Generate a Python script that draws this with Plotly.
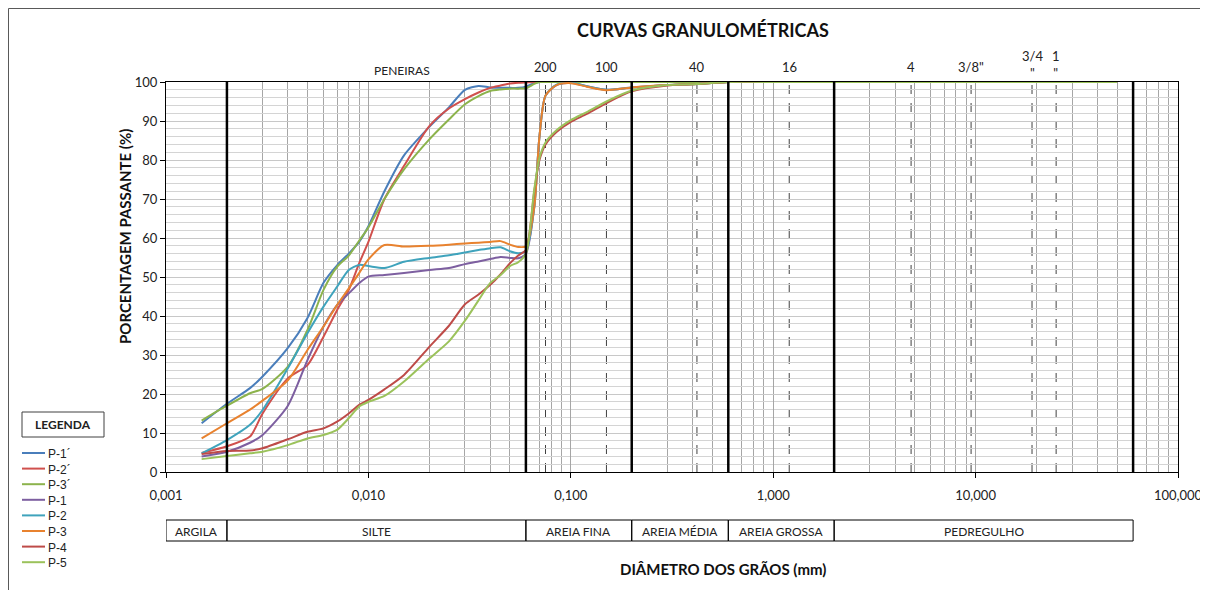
import math
import plotly.graph_objects as go

# diâmetros (mm) comuns a todas as curvas
diametros = [0.0015, 0.002, 0.0026, 0.003, 0.004, 0.005, 0.006, 0.007, 0.008, 0.009,
             0.010, 0.012, 0.015, 0.020, 0.025, 0.030, 0.035, 0.040, 0.045, 0.050,
             0.055, 0.060, 0.066, 0.070, 0.075, 0.085, 0.10, 0.12, 0.15, 0.20,
             0.30, 0.42, 0.60, 1.2, 4.8, 9.5, 19, 25, 50]

p1_linha = [12.5, 17.5, 21.5, 24.5, 31.8, 39.5, 48.5, 53.0, 56.0, 59.0,
            63.0, 72.0, 81.2, 88.5, 93.5, 98.0, 99.0, 98.6, 98.5, 98.5,
            98.5, 98.8, 99.7, 100, 100, 100, 100, 100, 100, 100,
            100, 100, 100, 100, 100, 100, 100, 100, 100]
p2_linha = [4.9, 6.6, 9.1, 15.0, 24.0, 27.4, 34.7, 41.5, 46.7, 53.5,
            59.0, 70.0, 78.5, 88.7, 93.2, 95.6, 97.3, 98.5, 99.1, 99.6,
            99.8, 99.9, 100, 100, 100, 100, 100, 100, 100, 100,
            100, 100, 100, 100, 100, 100, 100, 100, 100]
p3_linha = [13.2, 17.0, 20.2, 21.3, 27.0, 36.4, 46.7, 52.6, 55.5, 59.3,
            62.7, 70.0, 77.6, 85.3, 90.4, 94.3, 96.4, 97.7, 98.1, 98.3,
            98.3, 98.4, 99.5, 100, 100, 100, 100, 100, 100, 100,
            100, 100, 100, 100, 100, 100, 100, 100, 100]
p1 = [4.0, 5.2, 7.5, 9.5, 17.0, 28.7, 37.3, 42.8, 45.8, 48.4,
      50.1, 50.5, 51.0, 51.8, 52.3, 53.3, 54.0, 54.6, 55.1, 54.9,
      54.8, 56.0, 68.0, 86.0, 96.5, 99.2, 99.8, 98.9, 98.0, 98.6,
      99.2, 99.5, 100, 100, 100, 100, 100, 100, 100]
p2 = [4.8, 8.2, 12.1, 15.9, 26.6, 35.6, 42.4, 47.5, 51.8, 53.1,
      52.8, 52.3, 53.9, 54.9, 55.6, 56.3, 56.9, 57.4, 57.6, 56.6,
      56.1, 56.7, 68.0, 86.0, 96.5, 99.3, 99.9, 98.9, 98.0, 98.6,
      99.2, 99.5, 100, 100, 100, 100, 100, 100, 100]
p3 = [8.6, 12.5, 16.0, 18.3, 23.5, 31.3, 37.3, 42.8, 47.1, 51.0,
      54.5, 58.2, 57.8, 58.0, 58.3, 58.6, 58.8, 59.0, 59.2, 58.3,
      57.7, 57.9, 68.0, 86.0, 96.5, 99.2, 99.7, 98.8, 97.9, 98.6,
      99.2, 99.5, 100, 100, 100, 100, 100, 100, 100]
p4 = [4.6, 5.4, 5.5, 6.1, 8.4, 10.3, 11.2, 12.9, 15.0, 17.2,
      18.5, 21.2, 24.9, 32.1, 37.5, 43.0, 45.5, 48.0, 50.7, 53.5,
      55.5, 56.9, 72.0, 80.0, 84.0, 87.2, 89.8, 91.8, 94.6, 97.6,
      99.1, 99.5, 100, 100, 100, 100, 100, 100, 100]
p5 = [3.3, 4.1, 4.8, 5.2, 6.9, 8.6, 9.5, 10.8, 13.8, 16.8,
      18.0, 19.5, 23.2, 29.1, 33.5, 38.8, 44.0, 48.5, 50.5, 52.8,
      53.8, 56.0, 72.5, 80.5, 84.5, 87.6, 90.2, 92.3, 95.0, 97.8,
      99.2, 99.5, 100, 100, 100, 100, 100, 100, 100]

series = [("P-1´", p1_linha, "#4A7EBB"), ("P-2´", p2_linha, "#D0504D"),
          ("P-3´", p3_linha, "#8CB34C"), ("P-1", p1, "#7D5FA0"),
          ("P-2", p2, "#3FA3BC"), ("P-3", p3, "#E8822F"),
          ("P-4", p4, "#BE4B48"), ("P-5", p5, "#9BC25B")]

# peneiras (abertura em mm) e rótulos
peneiras = [0.075, 0.15, 0.42, 1.2, 4.8, 9.5, 19, 25]
peneiras_txt = ["200", "100", "40", "16", "4", "3/8\"", "3/4<br>\"", "1<br>\""]

# limites das frações (ABNT)
limites = [0.002, 0.06, 0.2, 0.6, 2, 60]
fracoes = [("ARGILA", 0.001, 0.002), ("SILTE", 0.002, 0.06), ("AREIA FINA", 0.06, 0.2),
           ("AREIA MÉDIA", 0.2, 0.6), ("AREIA GROSSA", 0.6, 2), ("PEDREGULHO", 2, 60)]

x_ticks = [0.001, 0.01, 0.1, 1, 10, 100]
x_ticktext = ["0,001", "0,010", "0,100", "1,000", "10,000", "100,000"]
minor_vals = [m * 10 ** e for e in range(-3, 2) for m in range(2, 10)]

FONT = "Lato, 'Open Sans', sans-serif"
ARIAL = "'Liberation Sans', Arial, sans-serif"
# a página tem 8 px de margem no body: a figura começa em (8, 8)
OFF = 8
W, H = 1200, 582
L, R, T, B = 166 - OFF, 30, 82 - OFF, 118


def px(x):
    # pixel horizontal da tela -> coordenada paper
    return (x - OFF - L) / (W - L - R)


def py(y):
    # pixel vertical da tela -> coordenada paper
    return (H - B - (y - OFF)) / (H - T - B)


fig = go.Figure()
for name, vals, color in series:
    fig.add_trace(go.Scatter(x=diametros, y=vals, name=name, mode="lines", showlegend=False,
                             line=dict(color=color, width=2, shape="spline", smoothing=0.7)))

shapes = []
for v in peneiras:
    shapes.append(dict(type="line", xref="x", yref="paper", x0=v, x1=v, y0=0, y1=1,
                       line=dict(color="#404040", width=1, dash="dash"), layer="between"))
for v in limites:
    shapes.append(dict(type="line", xref="x", yref="paper", x0=v, x1=v, y0=0, y1=1,
                       line=dict(color="black", width=2.5), layer="above"))
for txt, a, b in fracoes:
    shapes.append(dict(type="rect", xref="x", yref="paper", x0=a, x1=b, y0=py(541), y1=py(520),
                       line=dict(color="black", width=1)))
# caixa da legenda e moldura
shapes.append(dict(type="rect", xref="paper", yref="paper", x0=px(22), x1=px(104),
                   y0=py(437), y1=py(412), line=dict(color="#404040", width=1)))
shapes.append(dict(type="rect", xref="paper", yref="paper", x0=px(8.5), x1=px(1230),
                   y0=py(620), y1=py(8.5), line=dict(color="#595959", width=1)))

annotations = []
for v, t in zip(peneiras, peneiras_txt):
    two = "<br>" in t
    annotations.append(dict(x=math.log10(v), y=py(83 if two else 77), xref="x", yref="paper",
                            text=t, showarrow=False, xanchor="center", yanchor="bottom",
                            font=dict(family=FONT, size=13, color="#222")))
annotations.append(dict(x=px(402), y=py(70), xref="paper", yref="paper", text="PENEIRAS",
                        showarrow=False, xanchor="center", yanchor="middle",
                        font=dict(family=FONT, size=12, color="#222")))
for txt, a, b in fracoes:
    annotations.append(dict(x=(math.log10(a) + math.log10(b)) / 2, y=py(531), xref="x", yref="paper",
                            text=txt, showarrow=False, xanchor="center", yanchor="middle",
                            font=dict(family=FONT, size=12, color="#222")))
annotations.append(dict(x=px(63), y=py(424.5), xref="paper", yref="paper", text="<b>LEGENDA</b>",
                        showarrow=False, xanchor="center", yanchor="middle",
                        font=dict(family=FONT, size=12, color="#222")))
annotations.append(dict(x=px(723), y=py(569), xref="paper", yref="paper",
                        text="<b>DIÂMETRO DOS GRÃOS (mm)</b>", showarrow=False,
                        xanchor="center", yanchor="middle",
                        font=dict(family=FONT, size=15, color="#111")))
annotations.append(dict(x=px(125), y=py(237), xref="paper", yref="paper", textangle=-90,
                        text="<b>PORCENTAGEM PASSANTE (%)</b>", showarrow=False,
                        xanchor="center", yanchor="middle",
                        font=dict(family=FONT, size=15, color="#111")))

# legenda desenhada à mão (espaçamento do original)
for i, (name, vals, color) in enumerate(series):
    yy = 453 + i * 15.6
    shapes.append(dict(type="line", xref="paper", yref="paper", x0=px(22), x1=px(45),
                       y0=py(yy), y1=py(yy), line=dict(color=color, width=2)))
    annotations.append(dict(x=px(46), y=py(yy + 1), xref="paper", yref="paper", text=name,
                            showarrow=False, xanchor="left", yanchor="middle",
                            font=dict(family=ARIAL, size=12, color="#222")))

fig.update_layout(
    width=W, height=H,
    margin=dict(l=L, r=R, t=T, b=B, autoexpand=False),
    paper_bgcolor="white", plot_bgcolor="white",
    title=dict(text="<b>CURVAS GRANULOMÉTRICAS</b>", x=(703 - OFF) / W, xanchor="center",
               y=1 - (31 - OFF) / H, yanchor="middle", font=dict(family=FONT, size=18, color="#111")),
    shapes=shapes, annotations=annotations,
    showlegend=False,
)
fig.update_xaxes(type="log", range=[-3, 2], tickvals=x_ticks, ticktext=x_ticktext,
                 ticks="outside", ticklen=5, tickcolor="black",
                 showline=True, linecolor="black", linewidth=1, mirror=True,
                 showgrid=True, gridcolor="#A6A6A6", gridwidth=1,
                 minor=dict(tickvals=minor_vals, showgrid=True, gridcolor="#A6A6A6", ticks=""),
                 tickfont=dict(family=FONT, size=13, color="#222"), ticklabelstandoff=6)
fig.update_yaxes(range=[0, 100], dtick=10, ticks="outside", ticklen=5, tickcolor="black",
                 showline=True, linecolor="black", linewidth=1, mirror=True,
                 showgrid=True, gridcolor="#C8C8C8", gridwidth=1,
                 minor=dict(dtick=2, showgrid=True, gridcolor="#D4D4D4", ticks=""),
                 tickfont=dict(family=FONT, size=13, color="#222"))

fig.write_html("out.html")
